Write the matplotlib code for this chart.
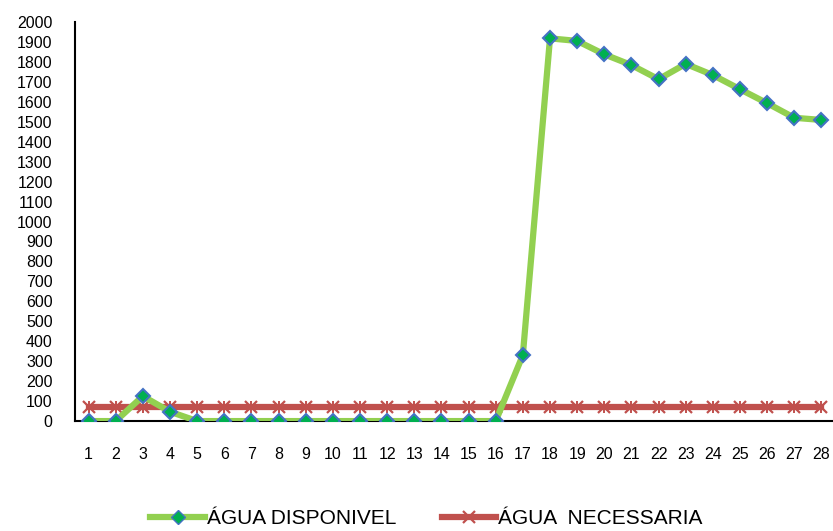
import matplotlib
matplotlib.use('Agg')
import matplotlib.pyplot as plt
from matplotlib.lines import Line2D

days = list(range(1, 29))
agua_disponivel = [0, 0, 125, 47, 0, 0, 0, 0, 0, 0, 0, 0, 0, 0, 0, 0,
                   331, 1918, 1905, 1838, 1784, 1713, 1790, 1734, 1663, 1593, 1520, 1509]
agua_necessaria = [72] * 28
yticks = list(range(0, 2001, 100))

green = '#92D050'
red = '#C0504D'

fig = plt.figure(figsize=(8.33, 5.31), dpi=100)
ax = fig.add_axes([0.09, 0.207, 0.9124, 0.7516])

ax.plot(days, agua_disponivel, color=green, linewidth=4.5, zorder=3,
        marker='D', markersize=7.5, markerfacecolor='#00B050',
        markeredgecolor='#4472C4', markeredgewidth=1.5)
ax.plot(days, agua_necessaria, color=red, linewidth=4.5, zorder=2)
ax.plot(days, agua_necessaria, linestyle='none', marker='x', markersize=8,
        color=red, markeredgewidth=1.6, zorder=2.5)
ax.plot(days, agua_necessaria, linestyle='none', marker='|', markersize=9,
        color=red, markeredgewidth=1.4, zorder=2.5)

ax.set_xlim(0.5, 28.5)
ax.set_ylim(0, 2000)
ax.set_xticks(days)
ax.set_xticklabels([str(d) for d in days])
ax.set_yticks(yticks)
ax.tick_params(axis='both', length=0, labelsize=11.5)
ax.tick_params(axis='y', pad=16)
ax.tick_params(axis='x', pad=19)
for lab in ax.get_xticklabels() + ax.get_yticklabels():
    lab.set_family('Liberation Sans')
ax.spines['top'].set_visible(False)
ax.spines['right'].set_visible(False)
ax.spines['left'].set_linewidth(1.5)
ax.spines['bottom'].set_linewidth(1.5)

handles = [
    Line2D([], [], color=green, linewidth=4.5, marker='D', markersize=7.5,
           markerfacecolor='#00B050', markeredgecolor='#4472C4'),
    Line2D([], [], color=red, linewidth=4.5, marker='x', markersize=8,
           markeredgewidth=1.6),
]
fig.legend(handles, ['ÁGUA DISPONIVEL', 'ÁGUA  NECESSARIA'], loc='lower center',
           bbox_to_anchor=(0.512, -0.03), ncol=2, frameon=False,
           prop={'family': 'Liberation Sans', 'size': 15},
           handlelength=2.6, handletextpad=0.1, columnspacing=2.2)

fig.savefig('out.png', dpi=100)
